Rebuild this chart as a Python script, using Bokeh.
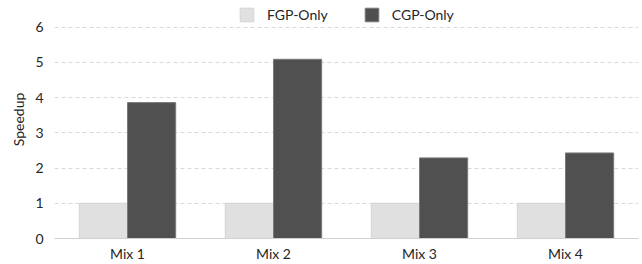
from bokeh.plotting import figure
from bokeh.models import ColumnDataSource, FactorRange, Legend, LegendItem, Range1d
from bokeh.transform import dodge
from bokeh.embed import file_html
from bokeh.resources import INLINE

categories = ["Mix 1", "Mix 2", "Mix 3", "Mix 4"]
fgp_only = [1.0, 1.0, 1.0, 1.0]
cgp_only = [3.86, 5.09, 2.29, 2.43]
y_ticks = [0, 1, 2, 3, 4, 5, 6]

FONT = "Lato"

src = ColumnDataSource(dict(cat=categories, fgp=fgp_only, cgp=cgp_only))

p = figure(x_range=FactorRange(*categories, range_padding=0), y_range=Range1d(0, 6.76),
           width=642, height=264, output_backend="svg", toolbar_location=None,
           min_border_left=54, min_border_right=4, min_border_top=0, min_border_bottom=25)

r1 = p.vbar(x=dodge("cat", -0.165, range=p.x_range), top="fgp", width=0.33, source=src,
            fill_color="#e0e0e0", line_color="#d4d4d4", line_width=1)
r2 = p.vbar(x=dodge("cat", 0.165, range=p.x_range), top="cgp", width=0.33, source=src,
            fill_color="#505050", line_color="#7a7a7a", line_width=1)

p.outline_line_color = None
p.xgrid.grid_line_color = None
p.ygrid.grid_line_color = "#d9d9d9"
p.ygrid.grid_line_dash = "4 3"
p.ygrid.ticker = y_ticks

p.yaxis.ticker = y_ticks
p.yaxis.axis_line_color = None
p.yaxis.major_tick_line_color = None
p.yaxis.minor_tick_line_color = None
p.yaxis.major_tick_out = 0
p.yaxis.minor_tick_out = 0
p.yaxis.major_label_text_font = FONT
p.yaxis.major_label_text_font_size = "14px"
p.yaxis.major_label_text_color = "#262626"
p.yaxis.axis_label = "Speedup"
p.yaxis.axis_label_text_font = FONT
p.yaxis.axis_label_text_font_size = "14px"
p.yaxis.axis_label_text_font_style = "normal"
p.yaxis.axis_label_text_color = "#262626"
p.yaxis.major_label_standoff = 11
p.yaxis.axis_label_standoff = 5

p.xaxis.axis_line_color = "#d0d0d0"
p.xaxis.major_tick_line_color = None
p.xaxis.minor_tick_line_color = None
p.xaxis.major_tick_out = 0
p.xaxis.minor_tick_out = 0
p.xaxis.major_label_text_font = FONT
p.xaxis.major_label_text_font_size = "14px"
p.xaxis.major_label_text_color = "#262626"
p.xaxis.major_label_standoff = 6

legend = Legend(items=[LegendItem(label="FGP-Only", renderers=[r1]),
                       LegendItem(label="CGP-Only", renderers=[r2])],
                orientation="horizontal", location=(184, 215),
                border_line_color=None, background_fill_alpha=0,
                label_text_font=FONT, label_text_font_size="14px", label_text_color="#262626",
                glyph_width=17, glyph_height=17, spacing=35, padding=0, margin=0,
                label_standoff=12)
p.add_layout(legend, "center")

open("out.html", "w").write(file_html(p, INLINE))
